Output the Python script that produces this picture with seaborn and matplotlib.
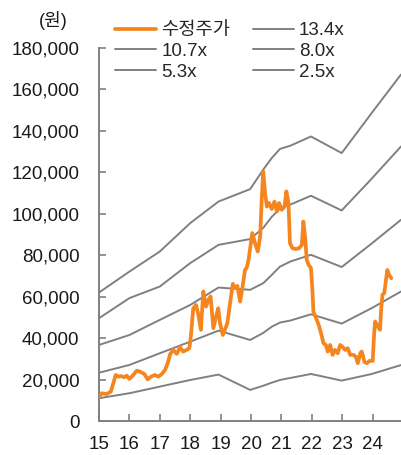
import matplotlib
matplotlib.use("Agg")
import matplotlib.pyplot as plt
import matplotlib.ticker as mticker
import numpy as np
import pandas as pd
import seaborn as sns

# Valuation band knots (year, KRW) for each PER multiple
band_years = [15.0, 16.0, 17.0, 18.0, 18.93, 19.97, 20.4, 20.68, 20.95, 21.3, 21.97, 22.98, 23.97, 24.93]
band_13_4 = [62000, 72100, 81800, 95500, 105900, 111900, 121300, 126900, 131300, 132900, 137300, 129300, 148700, 167200]
band_10_7 = [49600, 59300, 64900, 76200, 85000, 87800, 93200, 98500, 102500, 104500, 108700, 101600, 117000, 132500]
band_8_0 = [36700, 41500, 48800, 56000, 64400, 63300, 66500, 70500, 74500, 77000, 80200, 74300, 85700, 97100]
band_5_3 = [23300, 27050, 32700, 38300, 43600, 39100, 42500, 45500, 47500, 48500, 51500, 47000, 54500, 62500]
band_2_5 = [11000, 13400, 16600, 19800, 22400, 15000, 17000, 18500, 19800, 20800, 22700, 19500, 22700, 27000]

# Adjusted share price
price_years = [
    15.0, 15.09, 15.25, 15.39, 15.47, 15.55, 15.64, 15.72, 15.83, 15.91,
    16.0, 16.11, 16.24, 16.35, 16.49, 16.6, 16.71, 16.84, 16.95, 17.06,
    17.17, 17.26, 17.34, 17.44, 17.56, 17.66, 17.77, 17.88, 17.97, 18.02,
    18.1, 18.19, 18.27, 18.35, 18.43, 18.52, 18.6, 18.67, 18.76, 18.85,
    18.92, 18.98, 19.07, 19.14, 19.22, 19.31, 19.40, 19.47, 19.55, 19.64,
    19.73, 19.80, 19.86, 19.92, 19.97, 20.04, 20.13, 20.22, 20.30, 20.35,
    20.40, 20.46, 20.52, 20.59, 20.68, 20.77, 20.85, 20.92, 21.01, 21.10,
    21.16, 21.23, 21.28, 21.36, 21.47, 21.58, 21.67, 21.72, 21.78, 21.83,
    21.89, 21.97, 22.02, 22.05, 22.16, 22.24, 22.33, 22.38, 22.46, 22.52,
    22.60, 22.68, 22.76, 22.85, 22.93, 23.0, 23.09, 23.18, 23.26, 23.37,
    23.44, 23.51, 23.59, 23.64, 23.73, 23.81, 23.89, 24.0, 24.05, 24.08,
    24.17, 24.24, 24.28, 24.32, 24.38, 24.43, 24.48, 24.54, 24.61,
]
price_values = [
    11700, 13400, 13000, 14200, 18200, 22200, 21400, 21700, 21100, 21900,
    20300, 21900, 24300, 23800, 22700, 20100, 21400, 22200, 21400, 22600,
    24600, 27900, 32300, 34300, 32400, 35600, 33500, 34300, 35100, 40700,
    54400, 56000, 51200, 44000, 62500, 55200, 58500, 60100, 44800, 50400,
    54400, 47200, 41500, 44000, 47200, 56900, 66200, 64100, 65200, 57600,
    65700, 72900, 74000, 78000, 83400, 90700, 85800, 81800, 89000, 106800,
    120400, 110000, 103500, 105200, 102300, 105900, 101100, 105200, 101900, 103500,
    110800, 105200, 85800, 83400, 83000, 83400, 85000, 96300, 88300, 77800,
    75400, 73800, 62500, 52800, 48800, 45600, 40700, 37500, 36700, 33500,
    36700, 31900, 34300, 32700, 36700, 35900, 34300, 35100, 31900, 31900,
    31100, 27900, 32700, 33500, 28400, 27900, 29000, 29000, 43100, 48000,
    45600, 44000, 54400, 60900, 61700, 67300, 72900, 70500, 68900,
]

band_labels = ["13.4x", "10.7x", "8.0x", "5.3x", "2.5x"]
price_label = "수정주가"
x_ticks = list(range(15, 25))
x_tick_labels = [str(t) for t in x_ticks]
y_ticks = list(range(0, 180001, 20000))
unit_label = "(원)"

sns.set_style("ticks")
plt.rcParams["font.family"] = ["Liberation Sans", "Noto Sans CJK KR", "DejaVu Sans"]

W, H = 401, 455
fig = plt.figure(figsize=(W / 100, H / 100), dpi=100)
ax = fig.add_axes([99 / W, 1 - 421 / H, 1 - 99 / W, (421 - 48) / H])

gray = "#808080"
orange = "#F5861F"

bands = pd.DataFrame({
    "year": band_years * 5,
    "value": band_13_4 + band_10_7 + band_8_0 + band_5_3 + band_2_5,
    "band": sum([[lab] * len(band_years) for lab in band_labels], []),
})
price = pd.DataFrame({"year": price_years, "value": price_values})

handles = {}
for lab in band_labels:
    sub = bands[bands["band"] == lab]
    sns.lineplot(data=sub, x="year", y="value", ax=ax, color=gray, linewidth=1.4,
                 estimator=None, sort=False, legend=False)
    handles[lab] = ax.lines[-1]

sns.lineplot(data=price, x="year", y="value", ax=ax, color=orange, linewidth=2.7,
             estimator=None, sort=False, legend=False, zorder=5)
handles[price_label] = ax.lines[-1]

ax.set_xlim(15, 24.93)
ax.set_ylim(0, 180000)
ax.set_xticks(x_ticks)
ax.set_xticklabels(x_tick_labels)
ax.set_yticks(y_ticks)
ax.yaxis.set_major_formatter(mticker.StrMethodFormatter("{x:,.0f}"))
ax.set_xlabel("")
ax.set_ylabel("")

for side in ["top", "right"]:
    ax.spines[side].set_visible(False)
for side in ["left", "bottom"]:
    ax.spines[side].set_color(gray)
    ax.spines[side].set_linewidth(1.4)

ax.tick_params(axis="both", direction="in", length=5, width=1.2, color=gray,
               labelsize=13.5, labelcolor="#1a1a1a")
ax.tick_params(axis="y", pad=14)
ax.tick_params(axis="x", pad=11)

order = [price_label, "10.7x", "5.3x", "13.4x", "8.0x", "2.5x"]
fig.legend([handles[k] for k in order], order, loc="upper left",
           bbox_to_anchor=(115 / W, 1 - 22 / H), bbox_transform=fig.transFigure,
           ncol=2, frameon=False, fontsize=13.5, borderpad=0, borderaxespad=0,
           handlelength=2.2, handletextpad=0.27, columnspacing=1.2, labelspacing=0.2)

fig.text(53 / W, 1 - 20 / H, unit_label, ha="center", va="center", fontsize=13, color="#1a1a1a")

fig.savefig("out.png", dpi=100)
